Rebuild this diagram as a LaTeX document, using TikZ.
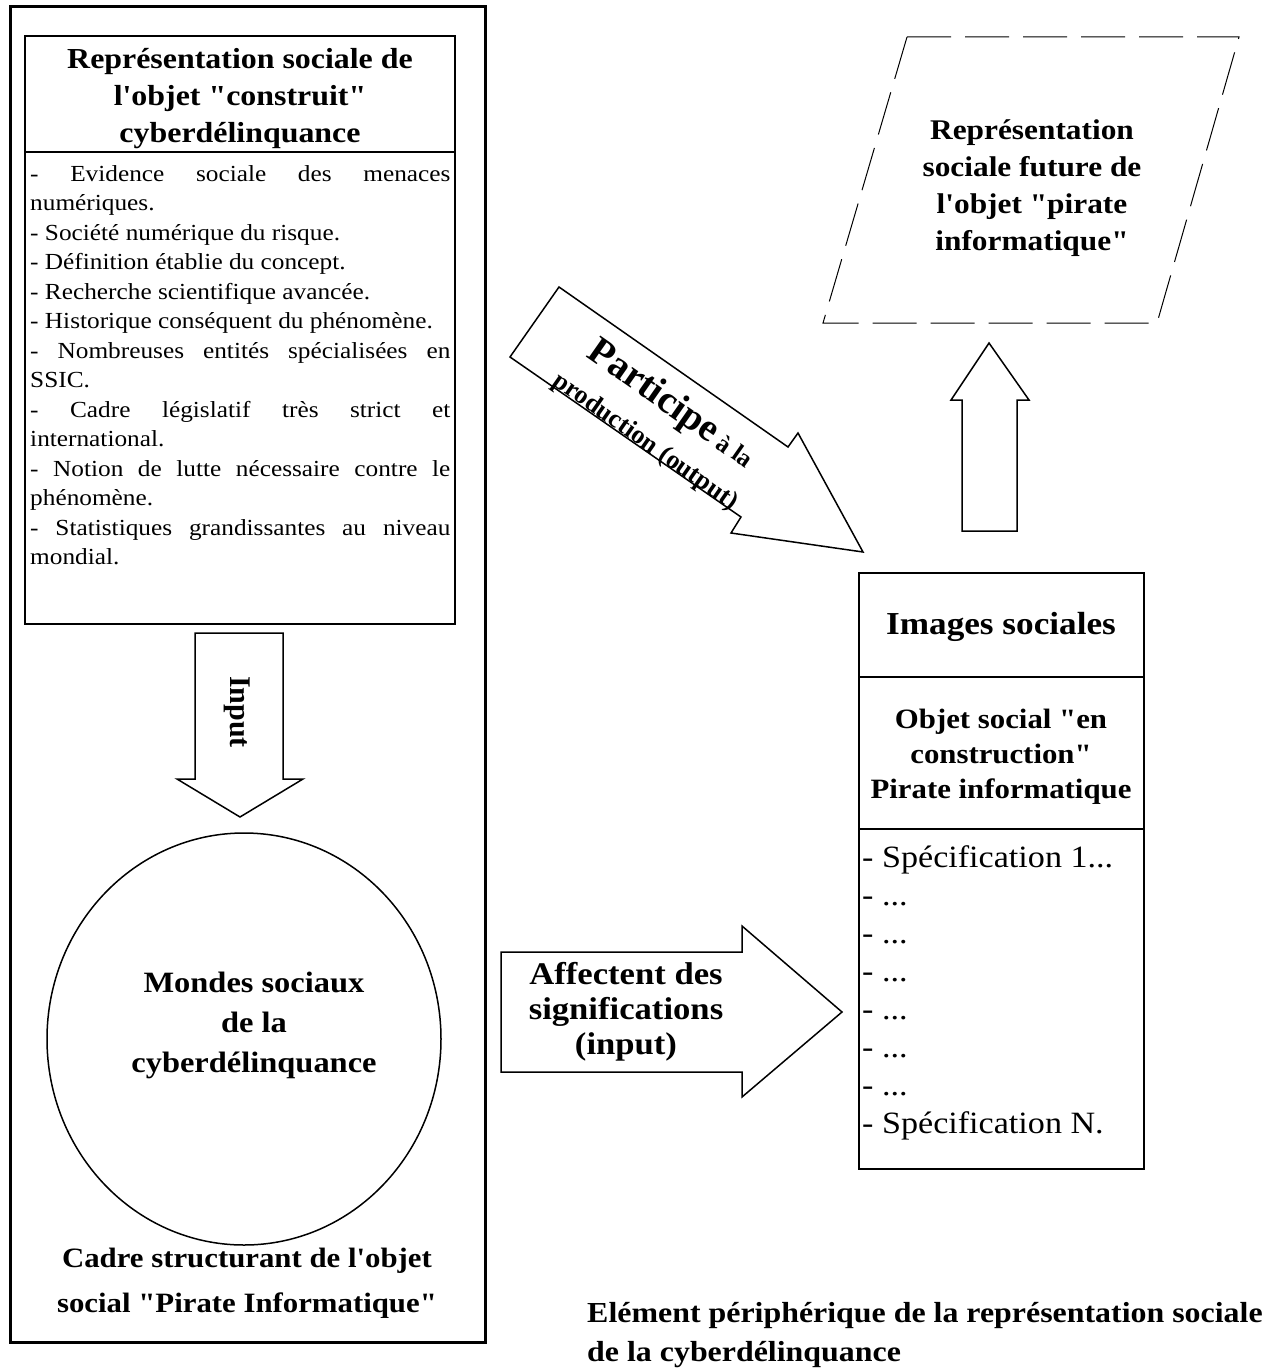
\documentclass[tikz,border=0pt]{standalone}
\usepackage{fontspec}
\setmainfont{Liberation Serif}[Ligatures=TeXOff]
\usepackage{graphicx}
\usetikzlibrary{shapes.geometric}
\newcommand{\fs}[2]{\fontsize{#1}{#2}\selectfont}
\newcommand{\jline}[1]{\makebox[382pt][s]{#1}}
\begin{document}
\begin{tikzpicture}[x=1pt,y=-1pt,
  frame/.style={draw, line width=1.5pt},
  blockarrow/.style={draw, line width=1.5pt, line join=miter},
  txt/.style={inner sep=0pt, xscale=1.1, align=center},
  rtxt/.style={inner sep=0pt, anchor=base},
  dashframe/.style={draw, line width=1pt, dash pattern=on 44pt off 14pt}]
\fill[white] (0,0) rectangle (1279,1370);
\useasboundingbox (0,0) rectangle (1279,1370);

% outer frame
\draw[line width=3pt] (10,7) rectangle (485,1342);

% left inner box
\draw[frame] (25,36) rectangle (455,624);
\draw[frame] (25,152) -- (455,152);
\node[txt, font={\bfseries\fs{29}{37}}] (lefttitle) at (240,99)
  {Représentation sociale de\\l'objet "construit"\\cyberdélinquance};
\node[txt, align=left, anchor=north west, font={\fs{23}{29.5}}] (leftlist) at (30,160.3)
  {\strut\jline{- Evidence sociale des menaces}\\numériques.\\- Société numérique du risque.\\- Définition établie du concept.\\- Recherche scientifique avancée.\\- Historique conséquent du phénomène.\\\jline{- Nombreuses entités spécialisées en}\\SSIC.\\\jline{- Cadre législatif très strict et}\\international.\\\jline{- Notion de lutte nécessaire contre le}\\phénomène.\\\jline{- Statistiques grandissantes au niveau}\\mondial.};

% Input arrow
\draw[blockarrow] (195,633) -- (283,633) -- (283,779) -- (303,779) -- (240,817) -- (177,779) -- (195,779) -- cycle;
\node[rotate=-90, inner sep=0pt, font={\bfseries\fs{30}{32}}] (inp) at (237,712) {Input};

% circle
\node[draw, ellipse, line width=1.5pt, minimum width=394pt, minimum height=412pt, inner sep=0pt] (monde) at (244,1039) {};
\node[txt, font={\bfseries\fs{29.5}{40}}] (mondetxt) at (254,1025)
  {Mondes sociaux\\de la\\cyberdélinquance};
\node[txt, font={\bfseries\fs{28}{45}}] (cadre) at (247,1283)
  {Cadre structurant de l'objet\\social "Pirate Informatique"};

% parallelogram
\draw[dashframe] (907,37) -- (1239,37) -- (1157,323) -- (823,323) -- cycle;
\node[txt, font={\bfseries\fs{28.5}{37}}] (future) at (1032,188)
  {Représentation\\sociale future de\\l'objet "pirate\\informatique"};

% diagonal arrow
\draw[blockarrow] (559,287) -- (788,447) -- (798,433) -- (863,552) -- (731,533) -- (741,517) -- (510,357) -- cycle;
\node[rotate=-35, rtxt, font={\bfseries\fs{25}{30}}] (particip) at (665.8,412.9)
  {{\fs{39}{40}Participe} à la};
\node[rotate=-35, rtxt, font={\bfseries\fs{26}{30}}] (product) at (641.6,447.3)
  {production (output)};

% up arrow
\draw[blockarrow] (962,531) -- (962,400) -- (951,400) -- (989,343) -- (1029,400) -- (1017,400) -- (1017,531) -- cycle;

% right box
\draw[frame] (859,573) rectangle (1144,1169);
\draw[frame] (859,677) -- (1144,677);
\draw[frame] (859,829) -- (1144,829);
\node[txt, font={\bfseries\fs{32}{38}}] (imgsoc) at (1001,627) {Images sociales};
\node[txt, font={\bfseries\fs{28}{35}}] (objet) at (1001,757)
  {Objet social "en\\construction"\\Pirate informatique};
\node[txt, align=left, anchor=north west, font={\fs{31}{38}}] (speclist) at (862,840.4)
  {\strut- Spécification 1...\\- ...\\- ...\\- ...\\- ...\\- ...\\- ...\\- Spécification N.};

% right arrow
\draw[blockarrow] (501,952) -- (742,952) -- (742,926) -- (842,1012) -- (742,1097) -- (742,1072) -- (501,1072) -- cycle;
\node[txt, font={\bfseries\fs{31.5}{35}}] (affect) at (626,1012)
  {Affectent des\\significations\\(input)};

% caption
\node[txt, align=left, anchor=west, font={\bfseries\fs{29}{39}}] (elem) at (587,1335)
  {Elément périphérique de la représentation sociale\\de la cyberdélinquance};
\end{tikzpicture}
\end{document}
